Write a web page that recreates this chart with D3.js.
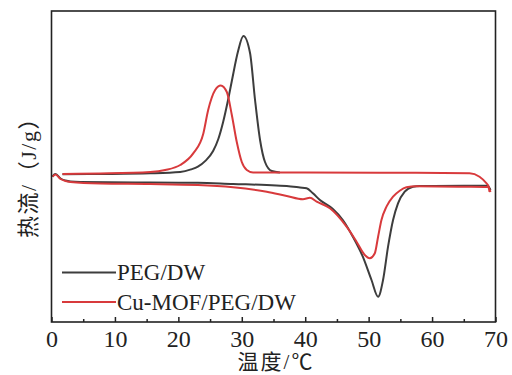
<!DOCTYPE html>
<html>
<head>
<meta charset="utf-8">
<script src="https://cdn.jsdelivr.net/npm/d3@7"></script>
<style>
  body { margin: 0; background: #fff; }
  text { font-family: "Liberation Serif", "Noto Sans CJK SC", serif; fill: #222; }
</style>
</head>
<body>
<svg id="chart" width="512" height="375"></svg>
<script>
// temperature (°C), heat flow (arbitrary units, exo up)
var pegCool = [[1.73,0.035],[7.71,0.05],[15.57,0.085],[20.29,0.15],[22,0.28],[23.08,0.42],[24.3,0.72],[25.48,1.2],[26.3,1.8],
  [27.06,2.65],[27.8,3.7],[28.43,4.7],[29.42,6.2],[30.25,6.95],[31.3,6.1],[32.09,3.75],[32.88,1.75],[33.66,0.65],[34.72,0.2],[36.02,0.125]];
var mofCool = [[1.73,0.05],[7.71,0.075],[15.57,0.15],[17.93,0.25],[20.29,0.5],[22.34,1.08],[23.94,2.08],[24.7,3.25],
  [25.8,4.25],[26.69,4.48],[27.64,4.15],[28.43,3.0],[29.21,1.65],[30.0,0.65],[30.79,0.25],[31.78,0.125],[40,0.12],
  [55,0.11],[65.91,0.09],[67.48,-0.085],[68.54,-0.4],[68.95,-0.6],[69.06,-0.85]];
var pegHeat = [[0.16,-0.085],[0.4,0.025],[0.63,0.05],[1.42,-0.175],[2.2,-0.275],[2.99,-0.325],[4.56,-0.35],[15.57,-0.375],
  [23.08,-0.39],[28.63,-0.45],[33.93,-0.5],[37.08,-0.55],[39.17,-0.625],[40.22,-0.665],[41.21,-0.915],[42.32,-1.25],
  [44.36,-1.7],[45.93,-2.25],[47.51,-3.085],[49.08,-4.085],[50.45,-5.25],[51.49,-6.085],[52.27,-5.25],[53.06,-3.585],
  [53.85,-2.25],[54.63,-1.415],[55.69,-0.835],[56.99,-0.585],[58.05,-0.55],[65,-0.54],[68.74,-0.535],[69.22,-0.75]];
var mofHeat = [[0.16,-0.085],[0.63,0.025],[1.42,-0.2],[2.99,-0.35],[7.71,-0.425],[15.57,-0.45],[23.08,-0.5],[28.63,-0.615],
  [33.93,-0.835],[37.08,-1.05],[39.64,-1.215],[40.74,-1.14],[41.8,-1.335],[43.89,-1.665],[46.52,-2.585],[48.09,-3.335],
  [49.39,-4.0],[50.18,-4.165],[50.97,-3.915],[51.49,-3.085],[52.02,-2.25],[52.81,-1.585],[53.85,-1.085],[54.9,-0.785],
  [55.95,-0.615],[57.53,-0.565],[65,-0.585],[68.74,-0.6],[69.22,-0.85]];

var names = ["PEG/DW", "Cu-MOF/PEG/DW"];
var colors = ["#3d3d3d", "#d83a3c"];
var xTicks = [0, 10, 20, 30, 40, 50, 60, 70];

var svg = d3.select("#chart");
var plotL = 51.5, plotR = 495.5, plotT = 11, plotB = 322;

var x = d3.scaleLinear().domain([0, 70]).range([plotL, plotR]);
var y = d3.scaleLinear().domain([-7.35, 8.2]).range([plotB, plotT]);

var line = d3.line()
    .x(function(d) { return x(d[0]); })
    .y(function(d) { return y(d[1]); })
    .curve(d3.curveMonotoneX);

var series = [
  {data: pegCool, c: 0}, {data: pegHeat, c: 0},
  {data: mofCool, c: 1}, {data: mofHeat, c: 1}
];

svg.selectAll(".curve")
    .data(series)
    .enter().append("path")
    .attr("class", "curve")
    .attr("d", function(d) { return line(d.data); })
    .attr("fill", "none")
    .attr("stroke", function(d) { return colors[d.c]; })
    .attr("stroke-width", 2);

// frame
svg.append("rect")
    .attr("x", plotL).attr("y", plotT)
    .attr("width", plotR - plotL).attr("height", plotB - plotT)
    .attr("fill", "none").attr("stroke", "#222").attr("stroke-width", 1.6);

// bottom axis: minor ticks
svg.append("g")
    .attr("transform", "translate(0," + plotB + ")")
    .call(d3.axisBottom(x).tickValues(d3.range(5, 70, 10)).tickSize(-3).tickFormat(""))
    .call(function(g) { g.select(".domain").remove(); g.selectAll("line").attr("stroke", "#222").attr("stroke-width", 1.5); });

var xAxis = svg.append("g")
    .attr("transform", "translate(0," + plotB + ")")
    .call(d3.axisBottom(x).tickValues(xTicks).tickSize(-5).tickPadding(8).tickFormat(d3.format("d")));
xAxis.select(".domain").remove();
xAxis.selectAll("line").attr("stroke", "#222").attr("stroke-width", 1.5);
xAxis.selectAll("text")
    .attr("font-size", 24)
    .attr("fill", "#222");

svg.append("text")
    .attr("x", 276).attr("y", 369)
    .attr("text-anchor", "middle")
    .attr("font-size", 21)
    .attr("letter-spacing", 2)
    .text("温度/℃");

svg.append("text")
    .attr("transform", "translate(36,172) rotate(-90)")
    .attr("text-anchor", "middle")
    .attr("font-size", 22)
    .attr("letter-spacing", 1.5)
    .text("热流/（J/g）");

// legend
var legend = svg.selectAll(".legend")
    .data(names)
    .enter().append("g")
    .attr("class", "legend")
    .attr("transform", function(d, i) { return "translate(62," + (272.5 + i * 29.5) + ")"; });

legend.append("line")
    .attr("x1", 0).attr("x2", 54)
    .attr("stroke", function(d, i) { return colors[i]; })
    .attr("stroke-width", 2);

legend.append("text")
    .attr("x", 55).attr("y", 7.5)
    .attr("font-size", 23)
    .text(function(d) { return d; });
</script>
</body>
</html>
